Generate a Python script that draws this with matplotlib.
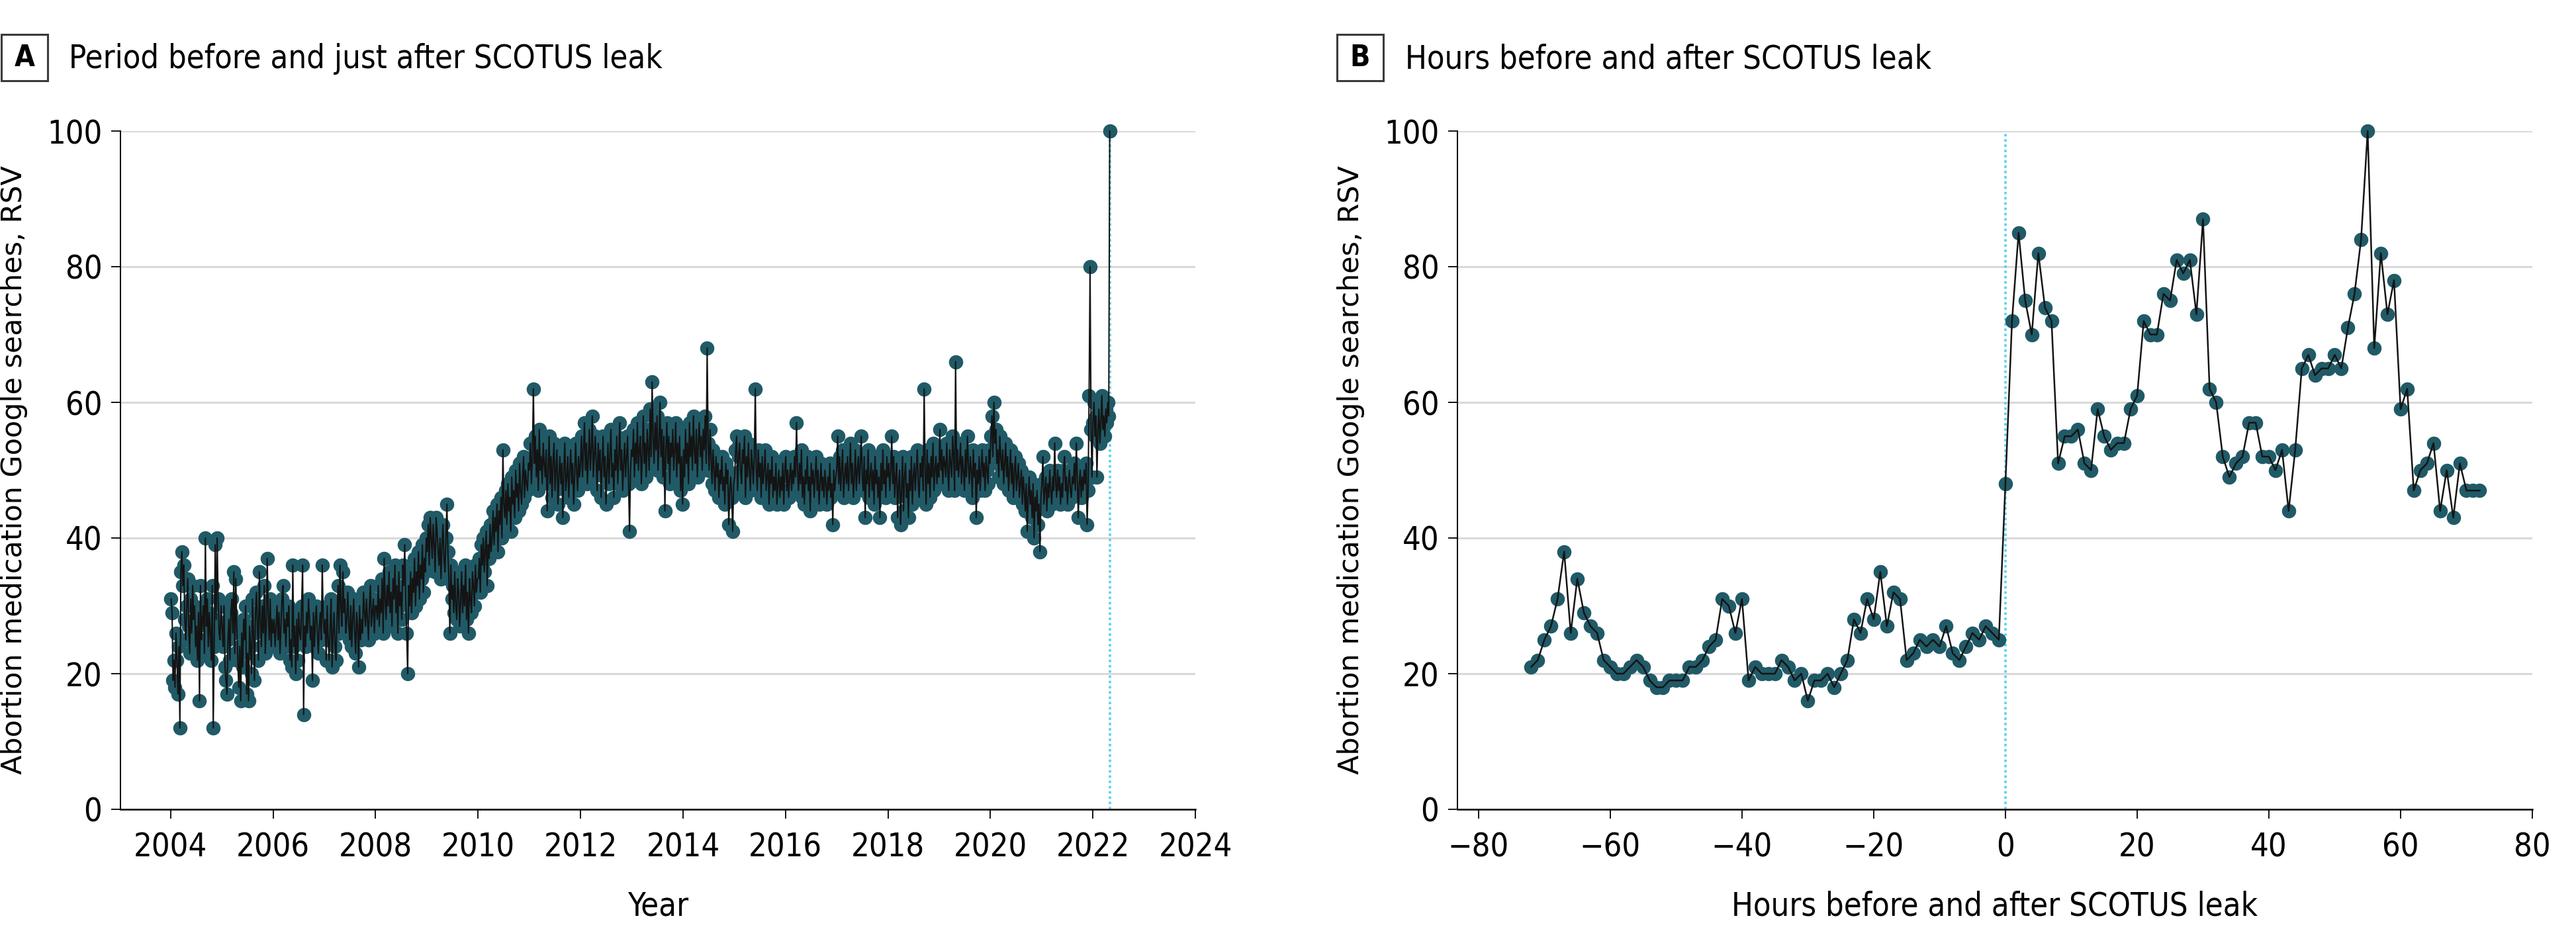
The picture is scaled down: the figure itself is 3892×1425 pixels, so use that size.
import matplotlib
matplotlib.use("Agg")
import matplotlib.pyplot as plt
import matplotlib.font_manager as fm
from matplotlib.patches import Rectangle
import numpy as np
import pandas as pd

# ---------------- DATA ----------------
# Panel A: weekly relative search volume (RSV), week starting Sundays from 2004-01-04
rsv_2004 = [31, 29, 19, 22, 18, 26, 22, 17, 24, 12, 35, 38, 33, 36, 28, 25, 30, 34, 27, 23, 31, 26, 33, 28, 30, 24, 27, 22, 29, 16, 33, 25, 28, 30, 23, 40, 27, 31, 24, 29, 26, 22, 33, 12, 24, 39, 28, 40, 31, 26, 25, 30]
rsv_2005 = [27, 24, 30, 21, 19, 17, 25, 28, 22, 29, 31, 26, 35, 23, 34, 27, 22, 18, 24, 16, 26, 21, 28, 25, 30, 17, 23, 16, 27, 24, 20, 31, 26, 19, 29, 32, 27, 22, 35, 28, 24, 30, 26, 33, 23, 27, 37, 29, 25, 31, 24, 28]
rsv_2006 = [26, 28, 24, 27, 30, 25, 29, 23, 27, 31, 33, 26, 28, 24, 29, 27, 30, 22, 25, 21, 36, 24, 27, 20, 28, 22, 29, 26, 25, 30, 36, 14, 27, 24, 29, 26, 31, 28, 25, 27, 19, 29, 24, 28, 30, 26, 23, 27, 29, 25, 36, 28, 26]
rsv_2007 = [28, 22, 30, 25, 22, 27, 31, 21, 26, 29, 24, 22, 28, 33, 26, 36, 30, 27, 35, 29, 31, 26, 28, 32, 27, 25, 30, 24, 28, 31, 26, 23, 29, 27, 21, 30, 25, 28, 26, 32, 29, 27, 31, 28, 25, 30, 33, 27, 29, 31, 26, 30]
rsv_2008 = [30, 28, 33, 27, 31, 29, 34, 26, 37, 31, 28, 33, 30, 35, 29, 32, 27, 34, 31, 36, 29, 33, 26, 35, 30, 32, 28, 36, 33, 39, 31, 26, 20, 33, 30, 35, 29, 34, 32, 37, 30, 35, 33, 38, 31, 36, 34, 39, 32, 37, 35, 40]
rsv_2009 = [38, 42, 36, 43, 40, 37, 42, 39, 35, 43, 41, 38, 36, 40, 34, 39, 42, 37, 35, 40, 45, 38, 34, 26, 36, 31, 33, 29, 35, 30, 28, 34, 32, 27, 31, 35, 29, 33, 30, 36, 28, 32, 26, 34, 31, 29, 35, 33, 30, 36, 32, 34]
rsv_2010 = [34, 37, 32, 39, 36, 40, 35, 38, 41, 33, 39, 37, 42, 38, 40, 44, 39, 43, 41, 45, 38, 44, 42, 46, 40, 53, 45, 43, 47, 42, 48, 44, 46, 41, 49, 45, 47, 43, 50, 46, 48, 44, 51, 47, 45, 49, 52, 46, 50, 48, 47, 51]
rsv_2011 = [50, 54, 48, 52, 62, 51, 55, 49, 53, 47, 56, 50, 52, 48, 54, 51, 49, 53, 44, 50, 55, 48, 52, 46, 51, 54, 47, 50, 53, 45, 49, 52, 48, 51, 43, 50, 54, 47, 49, 52, 46, 50, 53, 48, 51, 45, 49, 54, 50, 47, 52, 49]
rsv_2012 = [51, 55, 49, 53, 57, 50, 54, 48, 52, 56, 50, 53, 58, 49, 52, 55, 51, 47, 54, 50, 53, 46, 51, 55, 49, 52, 45, 50, 54, 48, 52, 56, 49, 51, 46, 53, 50, 55, 48, 52, 57, 50, 53, 47, 51, 54, 49, 52, 55, 48, 41, 50, 53]
rsv_2013 = [52, 56, 49, 54, 51, 57, 50, 53, 55, 48, 52, 58, 51, 54, 49, 56, 53, 50, 59, 52, 63, 55, 51, 57, 53, 58, 50, 54, 60, 52, 56, 49, 55, 44, 53, 57, 51, 55, 48, 54, 52, 56, 50, 53, 57, 49, 54, 51, 55, 47, 52, 45]
rsv_2014 = [53, 49, 56, 51, 54, 48, 57, 52, 55, 50, 58, 53, 51, 56, 49, 54, 57, 52, 55, 50, 56, 53, 58, 51, 68, 54, 50, 56, 52, 48, 53, 50, 47, 52, 49, 51, 46, 50, 48, 52, 47, 49, 45, 51, 48, 50, 42, 47, 49, 46, 41, 48]
rsv_2015 = [49, 53, 55, 47, 52, 54, 50, 48, 53, 51, 55, 46, 52, 49, 54, 50, 47, 53, 51, 48, 52, 62, 50, 47, 53, 49, 51, 46, 52, 48, 50, 53, 47, 49, 51, 45, 50, 48, 52, 46, 49, 47, 51, 45, 48, 50, 46, 49, 47, 51, 45, 50]
rsv_2016 = [52, 47, 50, 46, 49, 51, 47, 50, 48, 52, 49, 57, 50, 47, 51, 48, 53, 46, 49, 45, 50, 48, 52, 47, 49, 44, 51, 48, 50, 46, 49, 52, 47, 50, 45, 48, 51, 47, 49, 46, 50, 48, 45, 49, 47, 51, 46, 48, 42, 50, 47, 49]
rsv_2017 = [50, 55, 48, 52, 47, 50, 53, 46, 49, 51, 48, 52, 47, 50, 54, 48, 51, 46, 49, 53, 47, 50, 52, 48, 51, 55, 49, 47, 52, 43, 50, 48, 53, 46, 49, 51, 47, 50, 45, 52, 48, 50, 46, 49, 43, 51, 47, 53, 48, 50, 46, 52, 49]
rsv_2018 = [51, 47, 50, 55, 48, 52, 46, 49, 51, 43, 48, 50, 42, 47, 52, 44, 49, 51, 46, 48, 43, 50, 47, 52, 45, 49, 51, 47, 50, 53, 48, 46, 51, 49, 52, 47, 62, 50, 45, 53, 48, 51, 46, 52, 49, 54, 47, 50, 52, 48, 51, 49]
rsv_2019 = [56, 50, 53, 48, 52, 51, 49, 54, 50, 47, 53, 51, 49, 55, 52, 47, 66, 50, 53, 49, 51, 54, 48, 52, 50, 47, 53, 49, 55, 51, 48, 52, 50, 46, 53, 49, 51, 43, 50, 48, 52, 47, 50, 53, 49, 51, 47, 52, 50, 48, 53, 51]
rsv_2020 = [55, 58, 52, 60, 54, 56, 51, 53, 49, 55, 52, 50, 53, 48, 51, 54, 49, 52, 47, 50, 53, 48, 51, 46, 50, 52, 47, 49, 51, 46, 48, 50, 45, 49, 47, 44, 48, 41, 46, 49, 45, 47, 43, 48, 40, 46, 44, 47, 42, 45, 38, 46]
rsv_2021 = [48, 52, 45, 47, 49, 44, 48, 46, 50, 47, 45, 49, 47, 54, 48, 46, 50, 47, 49, 45, 48, 46, 50, 52, 47, 49, 45, 48, 50, 47, 46, 49, 48, 51, 47, 54, 49, 43, 48, 50, 46, 49, 47, 50, 48, 51, 42, 47, 61, 80, 56, 49]
rsv_2022 = [57, 60, 55, 58, 49, 56, 59, 54, 57, 61, 56, 58, 55, 59, 57, 60, 58, 100]
weekly_start = "2004-01-04"
leak_date = "2022-05-02"

# Panel B: hourly RSV, hours relative to the leak
hours = list(range(-72, 73))
hourly_rsv = [21, 22, 25, 27, 31, 38, 26, 34, 29, 27, 26, 22, 21, 20, 20, 21, 22, 21, 19, 18,
              18, 19, 19, 19, 21, 21, 22, 24, 25, 31, 30, 26, 31, 19, 21, 20, 20, 20, 22, 21,
              19, 20, 16, 19, 19, 20, 18, 20,
              22, 28, 26, 31, 28, 35, 27, 32, 31, 22, 23, 25, 24, 25, 24, 27, 23, 22, 24, 26,
              25, 27, 26, 25,
              48, 72, 85, 75, 70, 82, 74, 72, 51, 55, 55, 56, 51, 50, 59, 55, 53, 54, 54, 59,
              61, 72, 70, 70, 76, 75, 81, 79, 81, 73, 87, 62, 60, 52, 49, 51, 52, 57, 57, 52,
              52, 50, 53,
              44, 53, 65, 67, 64, 65, 65, 67, 65, 71, 76, 84, 100, 68, 82, 73, 78, 59, 62, 47,
              50, 51, 54, 44, 50, 43, 51, 47, 47, 47]

year_ticks = list(range(2004, 2025, 2))
hour_ticks = list(range(-80, 81, 20))
y_ticks = [0, 20, 40, 60, 80, 100]

# ---------------- STYLE ----------------
TEAL = "#215a67"
LINE = "#141414"
GRID = "#d9d9d9"
VLINE = "#55d2f2"

names = {f.name for f in fm.fontManager.ttflist}
if "Liberation Sans Narrow" in names:
    NARROW = dict(family="Liberation Sans Narrow")
else:
    NARROW = dict(family="DejaVu Sans", stretch="condensed")

W, H = 3892, 1425
fig = plt.figure(figsize=(W / 100, H / 100), dpi=100)

def to_decimal_year(d):
    d = pd.DatetimeIndex(d)
    start = pd.to_datetime(d.year.astype(str) + "-01-01")
    ndays = np.where(d.is_leap_year, 366, 365)
    return d.year + (d - start).days / ndays

weekly_vals = (rsv_2004 + rsv_2005 + rsv_2006 + rsv_2007 + rsv_2008 + rsv_2009 + rsv_2010 +
               rsv_2011 + rsv_2012 + rsv_2013 + rsv_2014 + rsv_2015 + rsv_2016 + rsv_2017 +
               rsv_2018 + rsv_2019 + rsv_2020 + rsv_2021 + rsv_2022)
weekly_dates = pd.date_range(weekly_start, periods=len(weekly_vals), freq="7D")
xa = to_decimal_year(weekly_dates)
leak_x = float(to_decimal_year([pd.Timestamp(leak_date)])[0])

axA = fig.add_axes([182 / W, 1 - 1223 / H, (1806 - 182) / W, (1223 - 198) / H])
axB = fig.add_axes([2202 / W, 1 - 1223 / H, (3826 - 2202) / W, (1223 - 198) / H])

def style_axis(ax, xticks, xlim, xlabel):
    ax.set_ylim(0, 100)
    ax.set_xlim(*xlim)
    ax.set_yticks(y_ticks)
    ax.set_xticks(xticks)
    ax.grid(axis="y", color=GRID, lw=2.2, zorder=0)
    ax.set_axisbelow(True)
    for s in ["top", "right"]:
        ax.spines[s].set_visible(False)
    ax.spines["left"].set_linewidth(1.4)
    ax.spines["bottom"].set_linewidth(1.8)
    ax.tick_params(axis="x", direction="out", length=10, width=1.3, pad=14, labelsize=34)
    ax.tick_params(axis="y", direction="out", length=10, width=1.3, pad=10, labelsize=34)
    for lab in ax.get_xticklabels() + ax.get_yticklabels():
        lab.set_fontproperties(fm.FontProperties(size=35, **NARROW))
    ax.set_xlabel(xlabel, fontsize=35, labelpad=30, **NARROW)
    ax.set_ylabel("Abortion medication Google searches, RSV", fontsize=31, family="DejaVu Sans")

# Panel A
style_axis(axA, year_ticks, (2003.02, 2024), "Year")
axA.set_xticklabels([str(t) for t in year_ticks])
axA.axvline(leak_x, color=VLINE, lw=2.6, ls=(0, (1, 1.2)), zorder=1)
axA.plot(xa, weekly_vals, ls="none", marker="o", ms=14.5, mfc=TEAL, mec=TEAL, zorder=3, clip_on=False)
axA.plot(xa, weekly_vals, color=LINE, lw=1.5, zorder=4, clip_on=False)
axA.yaxis.set_label_coords((42 - 182) / (1806 - 182), 0.5)

# Panel B
style_axis(axB, hour_ticks, (-83.2, 80), "Hours before and after SCOTUS leak")
axB.axvline(0, color=VLINE, lw=2.6, ls=(0, (1, 1.2)), zorder=1)
axB.plot(hours, hourly_rsv, ls="none", marker="o", ms=14.5, mfc=TEAL, mec=TEAL, zorder=3, clip_on=False)
axB.plot(hours, hourly_rsv, color=LINE, lw=1.8, zorder=4, clip_on=False)
axB.yaxis.set_label_coords((2062 - 2202) / (3826 - 2202), 0.5)

# Panel titles with boxed letters
def panel_title(x_box, x_text, letter, text):
    y0, y1 = 52, 122
    fig.add_artist(Rectangle((x_box / W, 1 - y1 / H), 70 / W, (y1 - y0) / H,
                             transform=fig.transFigure, fill=False, ec="#3a3a3a", lw=2.2))
    fig.text((x_box + 35) / W, 1 - 87 / H, letter, ha="center", va="center",
             fontsize=32, fontweight="bold", **NARROW)
    fig.text(x_text / W, 1 - 103 / H, text, ha="left", va="baseline", fontsize=35, **NARROW)

panel_title(2, 104, "A", "Period before and just after SCOTUS leak")
panel_title(2020, 2123, "B", "Hours before and after SCOTUS leak")

fig.savefig("out.png", dpi=100, facecolor="white")
